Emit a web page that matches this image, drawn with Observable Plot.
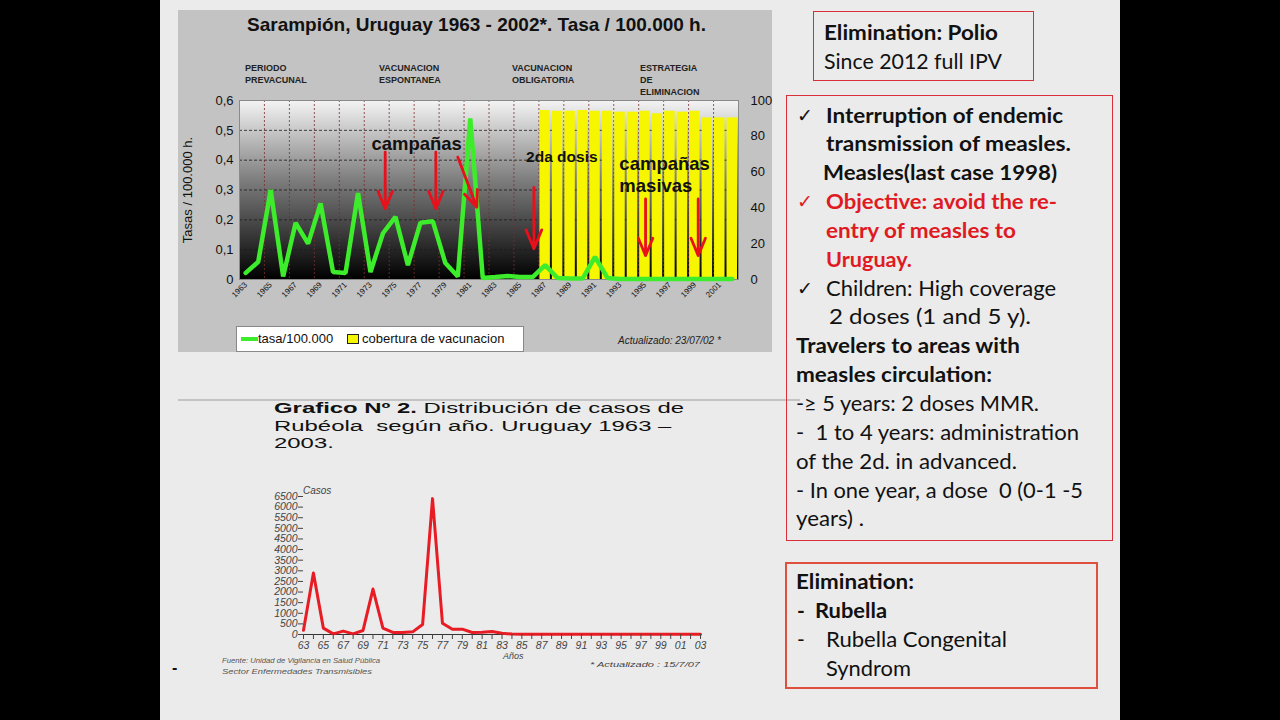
<!DOCTYPE html>
<html><head><meta charset="utf-8">
<script src="https://cdn.jsdelivr.net/npm/d3@7"></script>
<script src="https://cdn.jsdelivr.net/npm/@observablehq/plot@0.6"></script>
<style>
html,body{margin:0;padding:0;background:#000;width:1280px;height:720px;overflow:hidden}
#slide{position:absolute;left:160px;top:0;width:960px;height:720px;background:#ebebeb}
#root{position:absolute;left:0;top:0;width:1280px;height:720px}
.abs{position:absolute;white-space:pre}
.box{position:absolute;box-sizing:border-box}
svg{overflow:visible}
</style></head><body>
<div id="slide"></div>
<div id="root"></div>
<script>
// ---------------- DATA ----------------
// Chart 1: Sarampión (measles) rate per 100.000 and vaccination coverage
const measlesYears = [1963,1964,1965,1966,1967,1968,1969,1970,1971,1972,1973,1974,1975,1976,1977,1978,1979,1980,1981,1982,
  1983,1984,1985,1986,1987,1988,1989,1990,1991,1992,1993,1994,1995,1996,1997,1998,1999,2000,2001,2002];
const measlesRate = [0.022,0.059,0.30,0.01,0.19,0.12,0.255,0.025,0.022,0.29,0.025,0.155,0.21,0.048,0.19,0.195,0.055,0.01,0.54,0.005,
  0.008,0.012,0.008,0.008,0.048,0.005,0.003,0.003,0.076,0.005,0.002,0.002,0.002,0.002,0.002,0.002,0.002,0.002,0.002,0.002];
const coverageYears = [1987,1988,1989,1990,1991,1992,1993,1994,1995,1996,1997,1998,1999,2000,2001,2002];
const coverage = [94.4,94,94,94.4,94,94,93.5,93.5,94,92.6,94,93.5,94,90.3,90.3,90.3];
const rateTicks = [0,0.1,0.2,0.3,0.4,0.5,0.6];
const coverageTicks = [0,20,40,60,80,100];
const yearTickLabels = [1963,1965,1967,1969,1971,1973,1975,1977,1979,1981,1983,1985,1987,1989,1991,1993,1995,1997,1999,2001];
const gridBoundaries = [1964.5,1966.5,1968.5,1970.5,1972.5,1974.5,1976.5,1978.5,1980.5,1982.5,1984.5,1986.5,1988.5,1990.5,1992.5,1994.5,1996.5,1998.5,2000.5];
const periodLabels = ["PERIODO\nPREVACUNAL","VACUNACION\nESPONTANEA","VACUNACION\nOBLIGATORIA","ESTRATEGIA\nDE\nELIMINACION"];
const annotations = [
  {label:"campañas", year:1976.7, value:0.455, size:18.5, anchor:"middle"},
  {label:"2da dosis", year:1988.34, value:0.41, size:15.5, anchor:"middle"},
  {label:"campañas\nmasivas", year:1992.95, value:0.354, size:18.5, anchor:"start"}
];
const arrows = [
  {x1:1974.18,y1:0.427,x2:1974.18,y2:0.237},
  {x1:1978.24,y1:0.427,x2:1978.24,y2:0.237},
  {x1:1980.0,y1:0.41,x2:1981.52,y2:0.242},
  {x1:1986.1,y1:0.309,x2:1986.1,y2:0.103},
  {x1:1995.05,y1:0.27,x2:1995.05,y2:0.08},
  {x1:1999.27,y1:0.27,x2:1999.27,y2:0.08}
];
// Chart 2: Rubéola cases
const rubellaYears = [1963,1964,1965,1966,1967,1968,1969,1970,1971,1972,1973,1974,1975,1976,1977,1978,1979,1980,1981,1982,
  1983,1984,1985,1986,1987,1988,1989,1990,1991,1992,1993,1994,1995,1996,1997,1998,1999,2000,2001,2002,2003];
const rubellaCases = [200,2900,300,30,160,30,190,2140,300,95,95,125,470,6400,530,250,250,95,110,140,
  60,20,15,15,15,15,15,15,15,15,15,15,15,15,15,15,15,15,15,15,15];
const casosTicks = [0,500,1000,1500,2000,2500,3000,3500,4000,4500,5000,5500,6000,6500];

// ---------------- HELPERS ----------------
const root = document.getElementById("root");
function txt(x, cy, s, st = {}) {
  const d = document.createElement("div");
  d.className = "abs";
  d.textContent = s;
  const fs = st.fontSize || 21;
  const L = st.lh || Math.round(fs * 1.25);
  Object.assign(d.style, {left: x + "px", top: (cy - L / 2) + "px", lineHeight: L + "px", fontSize: fs + "px",
    fontFamily: st.font || "Lato, 'DejaVu Sans', sans-serif", fontWeight: st.bold ? "bold" : "normal",
    fontStyle: st.italic ? "italic" : "normal", color: st.color || "#111"});
  root.appendChild(d);
  if (st.right) fitWidth(d, st.right - x);
  return d;
}
function box(x, y, w, h, st) {
  const d = document.createElement("div");
  d.className = "box";
  Object.assign(d.style, {left: x + "px", top: y + "px", width: w + "px", height: h + "px"}, st);
  root.appendChild(d);
  return d;
}
function fitWidth(el, w) {
  const cur = el.getBoundingClientRect().width;
  el.style.transformOrigin = "left center";
  el.style.transform = `scaleX(${w / cur})`;
  return w / cur;
}

// ---------------- TOP CHART ----------------
box(178, 10, 594, 342, {background: "#c3c3c3"});
const arial = "'Liberation Sans', Arial, sans-serif";
txt(247, 25, "Sarampión, Uruguay 1963 - 2002*. Tasa / 100.000 h.", {fontSize: 19, bold: true, font: arial, right: 706});
const periodX = [245, 379, 512, 640];
periodLabels.forEach((p, i) => {
  txt(periodX[i], 68, p, {fontSize: 9, lh: 12, bold: true, font: arial, color: "#222"});
});

const rateData = measlesYears.map((y, i) => ({year: y, rate: measlesRate[i]}));
const covData = coverageYears.map((y, i) => ({year: y, cov: coverage[i]}));
const k = 0.6 / 100; // coverage -> left scale

const topPlot = Plot.plot({
  width: 594, height: 260,
  marginTop: 40, marginBottom: 41, marginLeft: 61, marginRight: 34,
  style: {background: "transparent", fontFamily: arial, overflow: "visible", color: "#111"},
  x: {domain: [1962.5, 2002.5]},
  y: {domain: [0, 0.6]},
  marks: [
    Plot.frame({fill: "url(#plotGrad)", stroke: null}),
    Plot.ruleY(rateTicks.slice(1, 6), {stroke: "#1a1a1a", strokeDasharray: "3,2", strokeWidth: 0.8}),
    Plot.ruleX(gridBoundaries, {stroke: "#7a2f2f", strokeDasharray: "2,2", strokeWidth: 0.8}),
    Plot.rectY(covData, {x1: d => d.year - 0.5, x2: d => d.year + 0.5, y: d => d.cov * k, fill: "#f6f600", insetLeft: 1, insetRight: 1}),
    Plot.frame({stroke: "#8a8a8a"}),
    Plot.line(rateData, {x: "year", y: "rate", stroke: "#3ded2b", strokeWidth: 4.5, strokeLinejoin: "miter"}),
    Plot.arrow(arrows, {x1: "x1", y1: "y1", x2: "x2", y2: "y2", stroke: "#e8101a", strokeWidth: 2.8, headLength: 11, headAngle: 45}),
    Plot.text(annotations.filter(a => a.anchor === "middle"), {x: "year", y: "value", text: "label", fontSize: d => d.size, fontWeight: "bold", fill: "#111", textAnchor: "middle"}),
    Plot.text(annotations.filter(a => a.anchor === "start"), {x: "year", y: "value", text: "label", fontSize: 18.5, lineHeight: 1.22, fontWeight: "bold", fill: "#111", textAnchor: "start"}),
    Plot.axisY({ticks: rateTicks, tickFormat: d => d === 0 ? "0" : d.toFixed(1).replace(".", ","), tickSize: 0, tickPadding: 6, fontSize: 13,
      label: "Tasas / 100.000 h.", labelAnchor: "center", labelOffset: 57, labelArrow: "none"}),
    Plot.axisY({anchor: "right", ticks: coverageTicks.map(v => v * k), tickFormat: d => String(Math.round(d / k)), tickSize: 0, tickPadding: 12, fontSize: 13, label: null}),
    Plot.axisX({ticks: yearTickLabels, tickFormat: d => String(d), tickRotate: -45, tickSize: 0, tickPadding: 4, fontSize: 8, label: null})
  ]
});
const defs = document.createElementNS("http://www.w3.org/2000/svg", "defs");
defs.innerHTML = `<linearGradient id="plotGrad" x1="0" y1="0" x2="0" y2="1">
  <stop offset="0" stop-color="#f4f4f4"/><stop offset="0.45" stop-color="#7c7c7c"/><stop offset="1" stop-color="#000"/></linearGradient>`;
topPlot.prepend(defs);
topPlot.querySelectorAll("text").forEach(t => { if (t.textContent === "Tasas / 100.000 h.") t.setAttribute("font-size", 13); });
Object.assign(topPlot.style, {position: "absolute", left: "178px", top: "60px"});
root.appendChild(topPlot);

// legend
box(236, 326, 288, 26, {background: "#fff", border: "1px solid #888"});
box(241, 337, 17, 4, {background: "#3ded2b"});
txt(258, 339, "tasa/100.000", {fontSize: 13, font: arial});
box(347, 334, 12, 10, {background: "#f6f600", border: "1px solid #222"});
txt(362, 339, "cobertura de vacunacion", {fontSize: 13, font: arial});
txt(618, 340, "Actualizado: 23/07/02 *", {fontSize: 10, italic: true, font: arial, color: "#222"});

// separator line
box(178, 399, 622, 1.5, {background: "#c4c4c4"});

// ---------------- BOTTOM CHART ----------------
const b1 = txt(274, 408, "", {fontSize: 14, font: arial, lh: 17});
b1.innerHTML = "<b>Grafico Nº 2.</b> Distribución de casos de";
const sc = fitWidth(b1, 410);
const b2 = txt(274, 426, "Rubéola  según año. Uruguay 1963 –", {fontSize: 14, font: arial, lh: 17});
b2.style.transformOrigin = "left center"; b2.style.transform = `scaleX(${sc})`;
const b3 = txt(274, 443, "2003.", {fontSize: 14, font: arial, lh: 17});
b3.style.transformOrigin = "left center"; b3.style.transform = `scaleX(${sc})`;

const rubData = rubellaYears.map((y, i) => ({year: y, cases: rubellaCases[i]}));
const botPlot = Plot.plot({
  width: 450, height: 180,
  marginTop: 16, marginBottom: 26, marginLeft: 41, marginRight: 12,
  style: {background: "transparent", fontFamily: arial, overflow: "visible", color: "#444"},
  x: {domain: [1963, 2003]},
  y: {domain: [0, 6500]},
  marks: [
    Plot.ruleY([0], {stroke: "#333", strokeWidth: 1}),
    Plot.line(rubData, {x: "year", y: "cases", stroke: "#e81c24", strokeWidth: 3}),
    Plot.axisY({ticks: casosTicks, tickSize: 5, tickPadding: 1, fontSize: 10.5, fontStyle: "italic", tickFormat: d => String(d), label: null}),
    Plot.axisX({ticks: rubellaYears, tickSize: 5, tickPadding: 2, fontSize: 10.5, fontStyle: "italic",
      tickFormat: d => d % 2 ? String(d).slice(-2) : "", label: null})
  ]
});
Object.assign(botPlot.style, {position: "absolute", left: "262px", top: "480px"});
root.appendChild(botPlot);

txt(303, 490, "Casos", {fontSize: 10, italic: true, font: arial, color: "#444"});
txt(503, 656, "Años", {fontSize: 9, italic: true, font: arial, color: "#444"});
txt(222, 660, "Fuente: Unidad de Vigilancia en Salud Pública", {fontSize: 7, italic: true, font: arial, color: "#555", right: 380});
txt(222, 671, "Sector Enfermedades Transmisibles", {fontSize: 7, italic: true, font: arial, color: "#555", right: 372});
txt(590, 665, "* Actualizado : 15/7/07", {fontSize: 8, italic: true, font: arial, color: "#444", right: 700});
txt(172, 668, "-", {fontSize: 16, bold: true, font: arial, color: "#111"});

// ---------------- RIGHT TEXT BOXES ----------------
const red = "#e01a22";
box(813, 11, 221, 70, {border: "1.5px solid #d8303a"});
txt(824, 32, "Elimination: Polio", {bold: true, right: 998});
txt(824, 61, "Since 2012 full IPV", {right: 1002});

box(786, 95, 327, 446, {border: "1.5px solid #d8303a"});
txt(797, 115, "✓", {fontSize: 19});
txt(826, 115, "Interruption of endemic", {bold: true, right: 1063});
txt(826, 143, "transmission of measles.", {bold: true, right: 1071});
txt(823, 172, "Measles(last case 1998)", {bold: true, right: 1057});
txt(797, 201, "✓", {fontSize: 19, color: red});
txt(826, 201, "Objective: avoid the re-", {bold: true, color: red, right: 1057});
txt(826, 230, "entry of measles to", {bold: true, color: red, right: 1016});
txt(826, 259, "Uruguay.", {bold: true, color: red, right: 912});
txt(797, 288, "✓", {fontSize: 19});
txt(826, 288, "Children: High coverage", {right: 1056});
txt(829, 316, "2 doses (1 and 5 y).", {right: 1031});
txt(796, 345, "Travelers to areas with", {bold: true, right: 1020});
txt(796, 374, "measles circulation:", {bold: true, right: 992});
txt(796, 403, "-≥ 5 years: 2 doses MMR.", {right: 1039});
txt(796, 432, "-  1 to 4 years: administration", {right: 1079});
txt(796, 461, "of the 2d. in advanced.", {right: 1017});
txt(796, 490, "- In one year, a dose  0 (0-1 -5", {right: 1083});
txt(796, 518, "years) .", {right: 864});

box(785, 562, 313, 127, {border: "2px solid #e0503e"});
txt(796, 581, "Elimination:", {bold: true, right: 914});
txt(797, 610, "-", {bold: true});
txt(815, 610, "Rubella", {bold: true, right: 887});
txt(797, 639, "-", {});
txt(826, 639, "Rubella Congenital", {right: 1007});
txt(826, 668, "Syndrom", {right: 911});
</script>
</body></html>
